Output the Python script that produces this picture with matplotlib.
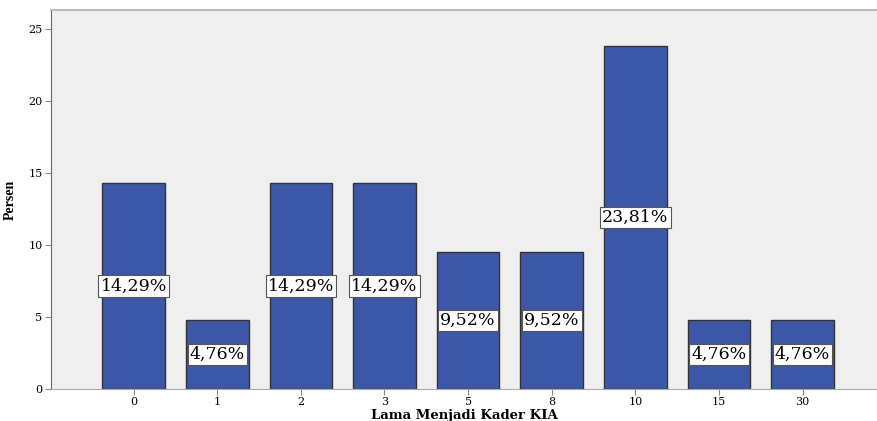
import matplotlib.pyplot as plt
import numpy as np

# Lama menjadi kader KIA (tahun) dan persentase kader
categories = ['0', '1', '2', '3', '5', '8', '10', '15', '30']
persen = [14.29, 4.76, 14.29, 14.29, 9.52, 9.52, 23.81, 4.76, 4.76]
labels = ['14,29%', '4,76%', '14,29%', '14,29%', '9,52%', '9,52%',
          '23,81%', '4,76%', '4,76%']

plt.rcParams['font.family'] = ['DejaVu Serif']

fig = plt.figure(figsize=(8.77, 4.21), dpi=100)
ax = fig.add_axes([0.058, 0.076, 0.942, 0.9])
ax.set_facecolor('#efefef')

x = np.arange(len(categories))
ax.bar(x, persen, width=0.75, color='#3d57a8', edgecolor='#333333', linewidth=1.0, zorder=2)

for xi, val, lab in zip(x, persen, labels):
    ax.text(xi, val / 2, lab, ha='center', va='center', fontsize=12.5, zorder=3,
            bbox=dict(boxstyle='square,pad=0.12', facecolor='white', edgecolor='#555555', linewidth=0.8))

ax.set_xlim(-0.99, 8.89)
ax.set_ylim(0, 26.3)
ax.set_xticks(x)
ax.set_xticklabels(categories, fontsize=8)
ax.set_yticks([0, 5, 10, 15, 20, 25])
ax.tick_params(axis='y', labelsize=8, length=4, color='#888888', pad=2)
ax.tick_params(axis='x', length=4, color='#888888', pad=2)

ax.spines['right'].set_visible(False)
ax.spines['top'].set_color('#bbbbbb')
ax.spines['top'].set_linewidth(1.5)
ax.spines['left'].set_color('#666666')
ax.spines['bottom'].set_color('#aaaaaa')

ax.set_ylabel('Persen', fontsize=10, fontweight='bold', family='Liberation Serif', labelpad=8)
ax.set_xlabel('Lama Menjadi Kader KIA', fontsize=9.5, fontweight='bold', labelpad=1)

fig.savefig('out.png', dpi=100)
